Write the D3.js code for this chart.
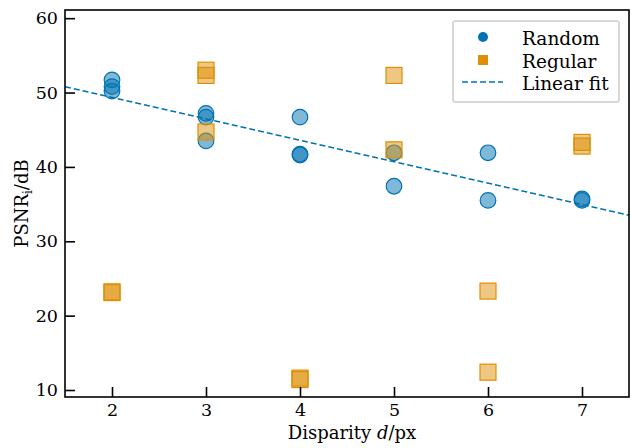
<!DOCTYPE html>
<html>
<head>
<meta charset="utf-8">
<script src="https://cdn.jsdelivr.net/npm/d3@7"></script>
<style>
  body { margin: 0; background: #fff; }
  svg text { font-family: "DejaVu Serif", serif; fill: #000; }
</style>
</head>
<body>
<div id="chart"></div>
<script>
'use strict';

// random sampling: disparity / PSNR_i
var randomX = [2, 2, 2, 3, 3, 3, 4, 4, 4, 5, 5, 6, 6, 7, 7];
var randomY = [51.7, 50.8, 50.2, 47.2, 46.7, 43.5, 46.7, 41.7, 41.6, 41.9, 37.4, 41.9, 35.5, 35.7, 35.5];

// regular sampling
var regularX = [2, 2, 3, 3, 3, 4, 4, 5, 5, 6, 6, 7, 7];
var regularY = [23.2, 23.1, 53.0, 52.3, 44.7, 11.6, 11.4, 52.3, 42.3, 23.3, 12.4, 43.3, 42.8];

// linear fit of the random points
var fitSlope = -2.88;
var fitIntercept = 55.1;

var xTicks = [2, 3, 4, 5, 6, 7];
var yTicks = [10, 20, 30, 40, 50, 60];
var legendLabels = ['Random', 'Regular', 'Linear fit'];

var blue = '#0173b2', orange = '#de8f05';
var serif = '"DejaVu Serif", serif';

var width = 631, height = 448;
var margin = {top: 10, right: 2, bottom: 51, left: 65};
var w = width - margin.left - margin.right,
    h = height - margin.top - margin.bottom;

var svg = d3.select('#chart').append('svg')
    .attr('width', width)
    .attr('height', height);

var g = svg.append('g')
    .attr('transform', 'translate(' + margin.left + ',' + margin.top + ')');

var x = d3.scaleLinear().domain([1.5, 7.5]).range([0, w]);
var y = d3.scaleLinear().domain([9.06, 61.1]).range([h, 0]);

// points
var randomData = randomX.map(function(d, i) { return [d, randomY[i]]; });
var regularData = regularX.map(function(d, i) { return [d, regularY[i]]; });

g.append('g').selectAll('circle')
    .data(randomData)
    .enter().append('circle')
    .attr('cx', function(d) { return x(d[0]); })
    .attr('cy', function(d) { return y(d[1]); })
    .attr('r', 7.8)
    .style('fill', blue)
    .style('fill-opacity', 0.5)
    .style('stroke', blue)
    .style('stroke-width', 1.2);

var sq = 16;
g.append('g').selectAll('rect')
    .data(regularData)
    .enter().append('rect')
    .attr('x', function(d) { return x(d[0]) - sq / 2; })
    .attr('y', function(d) { return y(d[1]) - sq / 2; })
    .attr('width', sq)
    .attr('height', sq)
    .style('fill', orange)
    .style('fill-opacity', 0.5)
    .style('stroke', orange)
    .style('stroke-width', 1.2);

// fit line
g.append('line')
    .attr('x1', x(1.5)).attr('y1', y(fitIntercept + fitSlope * 1.5))
    .attr('x2', x(7.5)).attr('y2', y(fitIntercept + fitSlope * 7.5))
    .style('stroke', blue)
    .style('stroke-width', 1.6)
    .style('stroke-dasharray', '6,3');

// axes, ticks pointing inward
var xAxis = g.append('g')
    .attr('transform', 'translate(0,' + h + ')')
    .call(d3.axisBottom(x).tickValues(xTicks).tickFormat(d3.format('d')).tickSize(-10).tickPadding(7));
var yAxis = g.append('g')
    .call(d3.axisLeft(y).tickValues(yTicks).tickFormat(d3.format('d')).tickSize(-10).tickPadding(7));

[xAxis, yAxis].forEach(function(a) {
    a.attr('font-family', null);
    a.select('.domain').remove();
    a.selectAll('line').style('stroke', '#000').style('stroke-width', 1.6);
    a.selectAll('text').style('font-size', '17.5px').style('font-family', serif);
});

// frame
g.append('rect')
    .attr('width', w).attr('height', h)
    .style('fill', 'none').style('stroke', '#000').style('stroke-width', 1.6);

// axis labels
var xl = svg.append('text')
    .attr('x', margin.left + w / 2 + 5)
    .attr('y', 439)
    .attr('text-anchor', 'middle')
    .style('font-size', '18px');
xl.append('tspan').text('Disparity ');
xl.append('tspan').style('font-style', 'italic').text('d');
xl.append('tspan').text('/px');

var yl = svg.append('text')
    .attr('transform', 'translate(28,' + (margin.top + h / 2) + ') rotate(-90)')
    .attr('text-anchor', 'middle')
    .style('font-size', '18px');
yl.append('tspan').text('PSNR');
yl.append('tspan').attr('dy', 4).style('font-size', '12px').text('i');
yl.append('tspan').attr('dy', -4).text('/dB');

// legend
var lg = svg.append('g').attr('transform', 'translate(453,21)');
lg.append('rect')
    .attr('width', 166).attr('height', 81).attr('rx', 2)
    .style('fill', '#fff').style('fill-opacity', 0.85)
    .style('stroke', '#ccc').style('stroke-width', 1.5);

var rowY = [16, 39, 61];
lg.append('circle').attr('cx', 30).attr('cy', rowY[0]).attr('r', 5).style('fill', blue);
lg.append('rect').attr('x', 25).attr('y', rowY[1] - 5).attr('width', 10).attr('height', 10).style('fill', orange);
lg.append('line').attr('x1', 9).attr('x2', 50).attr('y1', rowY[2]).attr('y2', rowY[2])
    .style('stroke', blue).style('stroke-width', 1.6).style('stroke-dasharray', '6,3');

lg.selectAll('text.lab')
    .data(legendLabels)
    .enter().append('text')
    .attr('class', 'lab')
    .attr('x', 69)
    .attr('y', function(d, i) { return rowY[i] + 7.5; })
    .style('font-size', '18.5px')
    .text(function(d) { return d; });
</script>
</body>
</html>
